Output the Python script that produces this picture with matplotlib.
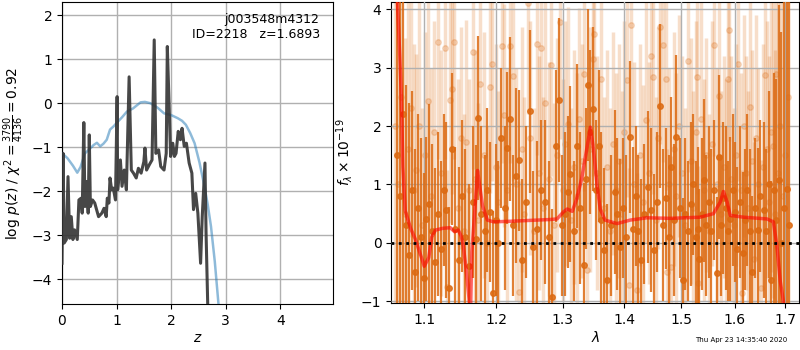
import numpy as np
import matplotlib
matplotlib.use('Agg')
import matplotlib.pyplot as plt
from matplotlib.ticker import NullLocator

## p(z) panel
z_prior = [0.0, 0.02, 0.1, 0.2, 0.28, 0.34, 0.42, 0.5, 0.58, 0.64, 0.70, 0.76, 0.82, 0.88, 0.95,
           1.0, 1.1, 1.19, 1.3, 1.44, 1.52, 1.62, 1.75, 1.87, 2.0, 2.12, 2.2, 2.27, 2.35, 2.43,
           2.52, 2.61, 2.67, 2.73, 2.8, 2.87]
lnp_prior = [-1.14, -1.16, -1.25, -1.42, -1.58, -1.45, -1.14, -1.05, -0.95, -0.90, -0.98, -0.92, -0.83,
             -0.60, -0.52, -0.45, -0.32, -0.19, -0.12, 0.02, 0.03, 0.0, -0.10, -0.23, -0.27, -0.34,
             -0.40, -0.49, -0.68, -0.91, -1.35, -1.89, -2.30, -2.80, -3.6, -4.6]

z_grid = [0.0, 0.02, 0.04, 0.08, 0.11, 0.14, 0.17, 0.2, 0.23, 0.28, 0.31, 0.35, 0.37, 0.40, 0.42,
          0.45, 0.48, 0.50, 0.52, 0.56, 0.60, 0.67, 0.73, 0.77, 0.81, 0.83, 0.86, 0.88, 0.91, 0.94,
          0.98, 1.01, 1.02, 1.07, 1.10, 1.14, 1.18, 1.23, 1.27, 1.31, 1.36, 1.40, 1.45, 1.50, 1.52,
          1.55, 1.60, 1.65, 1.69, 1.72, 1.77, 1.81, 1.87, 1.91, 1.93, 1.96, 1.99, 2.03, 2.06, 2.09,
          2.13, 2.17, 2.20, 2.24, 2.28, 2.33, 2.38, 2.41, 2.45, 2.49, 2.54, 2.57, 2.62, 2.64, 2.67,
          2.69]
lnp = [-3.64, -1.14, -3.18, -3.10, -1.67, -3.07, -2.58, -3.10, -2.88, -3.10, -2.20, -2.16, -2.50,
       -0.44, -2.35, -1.78, -2.50, -0.72, -2.35, -2.20, -2.27, -2.58, -2.50, -2.39, -2.58, -2.16,
       -2.27, -1.70, -1.97, -1.93, -2.20, 0.15, -1.97, -1.29, -1.89, -1.52, -1.97, 0.60, -1.52,
       -1.59, -1.70, -1.48, -1.59, -1.33, -1.02, -1.52, -1.40, -1.29, 1.44, -1.14, -1.06, -1.44,
       -1.52, -1.14, 1.29, 0.08, -1.21, -0.91, -1.21, -1.14, -0.64, -0.83, -0.57, -0.98, -0.91,
       -1.36, -1.59, -2.42, -2.05, -2.50, -3.64, -2.58, -1.36, -2.95, -4.55, -5.2]

root = 'j003548m4312'
obj_id = 2218
z_best = 1.6893
chi2 = 3790
dof = 4136

## spectrum panel (um, flux x 1e-19)
wave_a = [1.064, 1.068, 1.072, 1.076, 1.080, 1.084, 1.088, 1.092, 1.096, 1.100, 1.102, 1.106,
          1.110, 1.114, 1.118, 1.122, 1.126, 1.129, 1.133, 1.137, 1.142, 1.147, 1.151, 1.156,
          1.161, 1.166, 1.171, 1.173, 1.178, 1.183, 1.187, 1.191, 1.195, 1.200, 1.203, 1.207,
          1.212, 1.216, 1.220, 1.224, 1.228, 1.233, 1.238, 1.243, 1.249, 1.254, 1.260, 1.266,
          1.273, 1.278, 1.284, 1.289, 1.294, 1.299, 1.304, 1.308, 1.312, 1.318, 1.323, 1.328,
          1.333, 1.337, 1.340, 1.344, 1.348, 1.353, 1.358, 1.362, 1.366, 1.372, 1.378, 1.384,
          1.388, 1.393, 1.398, 1.403, 1.409, 1.415, 1.420, 1.424, 1.429, 1.434, 1.440, 1.446,
          1.452, 1.457, 1.462, 1.467, 1.472, 1.477, 1.482, 1.487, 1.491, 1.497, 1.502, 1.507,
          1.512, 1.517, 1.522, 1.526, 1.531, 1.533, 1.538, 1.542, 1.546, 1.550, 1.555, 1.560,
          1.566, 1.569, 1.573, 1.577, 1.582, 1.586, 1.591, 1.596, 1.600, 1.605, 1.610, 1.615,
          1.620, 1.624, 1.629, 1.634, 1.640, 1.645, 1.650, 1.657, 1.662, 1.667, 1.672, 1.677,
          1.682, 1.687, 1.692, 1.697, 1.703, 1.708]
flux_a = [1.5, 0.8, 2.2, 0.3, -0.2, 0.9, -0.5, 0.6, 0.1, -0.6, 0.41, 0.67,
          0.2, -0.32, 0.5, -0.1, 0.9, 0.56, -0.78, 1.6, 0.24, -0.3, 0.8, 0.1,
          -0.4, 0.7, 0.07, 2.14, 0.5, 0.2, 0.9, 0.53, -0.86, 0.4, 0.0, 1.79,
          0.6, 1.62, 2.12, 0.3, 1.15, 1.41, -0.3, 0.7, 2.25, -0.07, 0.24, 0.9,
          0.7, 0.1, -0.92, 1.66, 2.44, 0.3, 0.5, 0.87, 1.18, 0.2, 1.66, 0.6,
          -0.38, 1.1, 2.7, 1.9, 2.29, 0.9, 1.66, 0.4, -0.12, -0.64, 0.3, 0.87,
          0.5, -0.07, 0.6, 0.1, 1.82, 0.24, 0.8, 0.2, -0.3, 0.5, 0.95, 0.56,
          -0.12, 0.7, 2.34, 0.3, 0.76, 0.1, 1.3, 0.4, 1.82, 0.6, -0.64, 0.5,
          0.2, 0.67, 1.0, 0.1, 0.24, -0.27, 0.5, 1.07, 0.3, 0.70, 0.2, 0.9,
          -0.52, 1.47, 0.3, 0.76, 0.6, 0.2, 0.41, 0.9, 0.53, -0.1, 0.7, -0.18,
          0.4, 0.9, 0.2, -0.49, 0.6, 0.22, 0.8, 0.56, 0.2, 1.0, -0.64, 0.9,
          0.4, 1.07, 0.0, 0.6, 0.93, 0.3]
err_a = [5.0, 4.5, 3.6, 2.4, 2.6, 1.7, 2.1, 1.6, 1.7, 1.8, 1.4, 1.7,
         1.5, 1.6, 1.4, 1.5, 1.3, 1.5, 1.4, 1.3, 1.4, 1.6, 1.3, 1.5,
         1.4, 1.3, 1.6, 1.4, 1.5, 1.3, 1.4, 1.2, 1.4, 1.3, 1.4, 1.2,
         1.4, 1.3, 1.4, 1.2, 1.5, 1.2, 1.4, 1.3, 1.4, 1.3, 1.5, 1.2,
         1.4, 1.3, 1.5, 1.3, 1.4, 1.2, 1.4, 1.3, 1.5, 1.2, 1.4, 1.3,
         1.4, 1.2, 1.3, 1.4, 1.4, 1.2, 1.3, 1.5, 1.4, 1.3, 1.2, 1.4,
         1.3, 1.5, 1.2, 1.4, 1.3, 1.4, 1.2, 1.3, 1.4, 1.2, 1.3, 1.4,
         1.3, 1.2, 1.4, 1.3, 1.2, 1.4, 1.2, 1.3, 1.4, 1.2, 1.4, 1.3,
         1.2, 1.4, 1.2, 1.3, 1.4, 1.2, 1.3, 1.4, 1.2, 1.3, 1.4, 1.2,
         1.3, 1.4, 1.2, 1.3, 1.4, 1.2, 1.4, 1.3, 1.2, 1.4, 1.3, 1.4,
         1.2, 1.3, 1.4, 1.3, 1.2, 1.4, 1.3, 1.5, 1.4, 1.6, 1.7, 2.0,
         2.4, 3.0, 3.6, 4.0, 4.6, 5.0]

wave_b = [1.062, 1.066, 1.070, 1.075, 1.079, 1.083, 1.087, 1.089, 1.093, 1.097, 1.101, 1.105,
          1.109, 1.113, 1.118, 1.123, 1.128, 1.131, 1.135, 1.138, 1.140, 1.145, 1.150, 1.154,
          1.157, 1.161, 1.166, 1.170, 1.174, 1.177, 1.182, 1.186, 1.191, 1.194, 1.199, 1.203,
          1.208, 1.211, 1.215, 1.220, 1.225, 1.229, 1.233, 1.237, 1.241, 1.246, 1.250, 1.255,
          1.260, 1.263, 1.266, 1.270, 1.273, 1.278, 1.282, 1.287, 1.291, 1.296, 1.300, 1.304,
          1.308, 1.313, 1.318, 1.322, 1.326, 1.330, 1.334, 1.338, 1.343, 1.348, 1.350, 1.355,
          1.361, 1.366, 1.371, 1.376, 1.381, 1.386, 1.391, 1.396, 1.400, 1.405, 1.408, 1.411,
          1.416, 1.422, 1.427, 1.432, 1.437, 1.442, 1.446, 1.449, 1.454, 1.458, 1.462, 1.467,
          1.472, 1.474, 1.478, 1.481, 1.486, 1.491, 1.496, 1.501, 1.507, 1.512, 1.517, 1.522,
          1.526, 1.529, 1.531, 1.536, 1.541, 1.546, 1.551, 1.556, 1.560, 1.565, 1.570, 1.574,
          1.579, 1.583, 1.586, 1.588, 1.593, 1.598, 1.602, 1.606, 1.611, 1.614, 1.617, 1.622,
          1.626, 1.629, 1.633, 1.637, 1.641, 1.646, 1.651, 1.655, 1.660, 1.664, 1.668, 1.672,
          1.675, 1.679, 1.681, 1.685, 1.690, 1.695, 1.700, 1.705]
flux_b = [2.0, 1.0, 2.5, 0.5, 1.6, 2.3, 0.9, 1.24, 2.0, 0.3, 1.5, 2.43,
          0.8, 1.9, 3.43, 1.2, 3.34, -0.75, 2.44, 2.64, 3.44, 0.6, 1.8, 0.2,
          1.72, 0.9, 3.27, 1.1, 0.4, 2.72, 1.5, 0.0, 2.66, 3.06, 1.3, 0.7,
          3.37, 2.18, 0.9, 3.37, 2.86, 1.0, -0.84, 1.6, 0.5, 4.1, 1.8, 0.2,
          3.4, 1.2, 3.34, 0.6, 2.4, 1.1, 3.04, 0.3, 1.5, 3.78, 0.9, 1.7,
          2.03, 0.4, 1.3, 0.8, 2.12, 1.4, 2.89, -0.47, 1.6, 3.14, 3.58, 1.2,
          2.8, 0.6, 1.3, 0.2, 1.7, 0.9, 1.4, 0.5, 1.9, 2.78, -0.72, 3.72,
          1.0, -0.81, 1.5, 0.7, 2.1, 1.2, 3.19, 2.83, 0.4, 1.8, 3.7, 3.39,
          2.8, -0.49, 1.0, -0.41, 1.6, 0.8, 2.0, 1.2, 0.3, 3.11, 1.4, 0.6,
          1.9, 2.83, -0.69, 2.12, 0.9, 1.5, 0.2, 1.7, 3.39, 1.0, 2.52, 0.5,
          1.3, 0.8, 2.8, 3.65, 1.1, 0.3, 1.5, 3.06, 0.9, -0.86, 2.0, 1.2,
          0.6, 2.32, 1.4, -0.27, 1.8, 1.0, -0.78, 1.3, 2.87, 1.6, 0.7, 1.9,
          1.66, 0.5, 2.89, 1.2, 2.0, 0.8, 1.5, 2.5]
err_b = [4.0, 4.5, 3.5, 3.0, 2.8, 2.2, 2.5, 2.0, 2.2, 2.0, 2.1, 2.0,
         2.2, 1.9, 2.0, 2.1, 1.9, 2.0, 2.1, 1.8, 2.0, 2.2, 1.9, 2.0,
         2.1, 1.9, 2.0, 2.2, 2.0, 1.9, 2.1, 2.0, 1.8, 2.0, 2.1, 1.9,
         2.0, 1.9, 2.1, 2.0, 1.8, 2.0, 1.9, 2.1, 2.0, 1.9, 2.0, 2.1,
         1.9, 2.0, 2.1, 1.9, 2.0, 2.0, 1.9, 2.1, 2.0, 2.0, 1.9, 2.1,
         2.0, 1.9, 2.0, 2.1, 1.9, 2.0, 2.0, 1.9, 2.1, 2.0, 1.9, 2.0,
         2.1, 1.9, 2.0, 2.1, 1.9, 2.0, 2.0, 2.1, 1.9, 2.0, 2.0, 1.9,
         2.1, 2.0, 1.9, 2.0, 2.1, 1.9, 2.0, 2.0, 2.1, 1.9, 2.0, 2.0,
         1.9, 2.1, 2.0, 1.9, 2.0, 2.1, 1.9, 2.0, 2.0, 1.9, 2.1, 2.0,
         1.9, 2.0, 2.0, 2.1, 1.9, 2.0, 2.0, 2.1, 1.9, 2.0, 2.0, 2.1,
         1.9, 2.0, 2.0, 1.9, 2.1, 2.0, 1.9, 2.0, 2.0, 2.1, 1.9, 2.0,
         2.0, 2.1, 1.9, 2.0, 2.1, 2.0, 2.2, 2.1, 2.3, 2.2, 2.5, 2.4,
         2.6, 2.8, 3.0, 3.5, 4.0, 4.5, 5.0, 5.0]

wave_model = [1.062, 1.068, 1.070, 1.072, 1.075, 1.082, 1.088, 1.095, 1.100, 1.106, 1.110, 1.115,
              1.125, 1.135, 1.141, 1.146, 1.150, 1.153, 1.157, 1.161, 1.163, 1.165, 1.169, 1.173,
              1.176, 1.180, 1.187, 1.196, 1.22, 1.25, 1.28, 1.291, 1.301, 1.307, 1.315, 1.322,
              1.330, 1.339, 1.344, 1.349, 1.355, 1.360, 1.368, 1.388, 1.410, 1.439, 1.48, 1.5345,
              1.559, 1.572, 1.578, 1.585, 1.591, 1.617, 1.663, 1.676, 1.683, 1.690, 1.696, 1.700]
flux_model = [5.0, 3.2, 2.5, 1.3, 0.55, 0.25, 0.07, -0.2, -0.40, -0.25, 0.1, 0.22,
              0.25, 0.26, 0.19, 0.22, 0.12, -0.05, -0.45, -0.95, -1.3, -0.15, 0.53, 1.24,
              0.98, 0.64, 0.39, 0.36, 0.37, 0.385, 0.40, 0.41, 0.53, 0.58, 0.54, 0.75,
              1.10, 1.66, 1.98, 1.61, 0.98, 0.58, 0.39, 0.33, 0.39, 0.43, 0.42, 0.44,
              0.50, 0.70, 0.88, 0.70, 0.47, 0.44, 0.41, 0.36, -0.04, -0.66, -0.98, -1.3]

xticks_wave = [1.1, 1.2, 1.3, 1.4, 1.5, 1.6, 1.7]

orange = '#dc6a12'

fig = plt.figure(figsize=(8, 3.5), dpi=100)

## left: log p(z)
ax = fig.add_axes([0.0775, 0.131, 0.339, 0.863])
ax.plot(z_prior, lnp_prior, color='#1f77b4', alpha=0.5, lw=1.8, zorder=3)
ax.plot(z_grid, lnp, color='0.2', alpha=0.9, lw=2.2, zorder=4)
ax.set_xlim(0, 4.97)
ax.set_ylim(-4.57, 2.3)
ax.set_xticks([0, 1, 2, 3, 4])
ax.set_yticks([-4, -3, -2, -1, 0, 1, 2])
ax.grid(True, color='#b0b0b0', lw=1)
ax.set_axisbelow(True)
ax.set_xlabel('$z$', labelpad=2)
ax.set_ylabel(r'log $p(z)$' + ' / ' + r'$\chi^2=\frac{%d}{%d}=%.2f$' % (chi2, dof, chi2 / dof))
ax.text(0.95, 0.965, '%s\nID=%d   z=%.4f' % (root, obj_id, z_best), ha='right', va='top',
        transform=ax.transAxes, fontsize=9)

## right: spectrum
ax2 = fig.add_axes([0.489, 0.134, 0.510, 0.86])
ax2.errorbar(wave_b, flux_b, yerr=err_b, marker='o', ms=4, linestyle='None', color=orange,
             alpha=0.22, elinewidth=2.5, capsize=0, zorder=2)
ax2.errorbar(wave_a, flux_a, yerr=err_a, marker='o', ms=4, linestyle='None', color=orange,
             alpha=0.85, elinewidth=1.6, capsize=0, zorder=3)
ax2.plot(wave_model, flux_model, color='r', alpha=0.6, lw=2.5, zorder=5)
ax2.axhline(0, color='k', linestyle=':', lw=2, zorder=6)
ax2.set_xscale('log')
ax2.set_xlim(1.057, 1.729)
ax2.set_ylim(-1.03, 4.12)
ax2.set_xticks(xticks_wave)
ax2.set_xticklabels(['%.1f' % w for w in xticks_wave])
ax2.xaxis.set_minor_locator(NullLocator())
ax2.set_yticks([-1, 0, 1, 2, 3, 4])
ax2.grid(True, color='#b0b0b0', lw=1)
ax2.set_axisbelow(False)
for gl in ax2.get_xgridlines() + ax2.get_ygridlines():
    gl.set_zorder(4)
ax2.set_xlabel(r'$\lambda$', labelpad=2)
ax2.set_ylabel(r'$f_\lambda\times10^{-19}$')

fig.text(0.984, 0.02, 'Thu Apr 23 14:35:40 2020', ha='right', va='bottom', fontsize=5)

fig.savefig('out.png', dpi=100)
